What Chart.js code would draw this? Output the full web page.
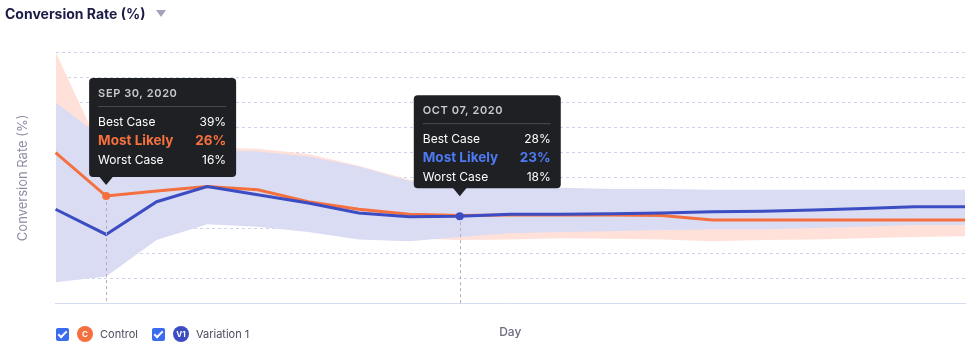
<!DOCTYPE html>
<html>
<head>
<meta charset="utf-8">
<script src="https://cdn.jsdelivr.net/npm/chart.js@4.4.1/dist/chart.umd.min.js"></script>
<style>
    html, body { margin: 0; padding: 0; background: #fff; }
    body { width: 971px; height: 346px; position: relative; overflow: hidden; font-family: Inter, "Noto Sans", sans-serif; }
    #chartWrap { position: absolute; left: 0; top: 0; width: 971px; height: 346px; }
    .header { position: absolute; left: 5px; top: 5px; font-size: 14px; font-weight: 700; color: #1c1b47; }
    .header .caret { display: inline-block; margin-left: 10px; width: 0; height: 0; border-left: 5px solid transparent; border-right: 5px solid transparent; border-top: 7px solid #a79fbc; vertical-align: 2px; }
    .legend { position: absolute; left: 56px; top: 326px; display: flex; align-items: center; font-size: 11px; color: #4b4b5c; }
    .legend .item { display: flex; align-items: center; margin-right: 14px; }
    .legend .box { width: 13px; height: 13px; border-radius: 2px; background: #3b6cf0; position: relative; margin-right: 8px; }
    .legend .box::after { content: ''; position: absolute; left: 4px; top: 1px; width: 3px; height: 7px; border: solid #fff; border-width: 0 2px 2px 0; transform: rotate(45deg); }
    .legend .badge { width: 16px; height: 16px; border-radius: 50%; color: #fff; font-size: 8px; font-weight: 700; display: flex; align-items: center; justify-content: center; margin-right: 7px; }
</style>
</head>
<body>
<div id="chartWrap"><canvas id="lineChart" width="971" height="346"></canvas></div>
<div class="header">Conversion Rate (%)<span class="caret"></span></div>
<div class="legend">
    <div class="item"><span class="box"></span><span class="badge" style="background:#f4703f">C</span>Control</div>
    <div class="item"><span class="box"></span><span class="badge" style="background:#3c4cc2">V1</span>Variation 1</div>
</div>
<script>
// 日期
const days = ['Sep 29', 'Sep 30', 'Oct 01', 'Oct 02', 'Oct 03', 'Oct 04', 'Oct 05', 'Oct 06', 'Oct 07', 'Oct 08',
    'Oct 09', 'Oct 10', 'Oct 11', 'Oct 12', 'Oct 13', 'Oct 14', 'Oct 15', 'Oct 16', 'Oct 17'];

// Control
const controlLikely = [33.0, 26.1, 26.9, 27.6, 27.1, 25.2, 24.0, 23.2, 23.0, 23.1, 23.1, 23.1, 23.0, 22.3, 22.3, 22.3, 22.3, 22.3, 22.3];
const controlBest = [49.0, 31.7, 33.6, 33.8, 33.6, 32.8, 30.9, 28.7, 27.7, 26.9, 26.9, 26.9, 26.9, 26.9, 26.9, 26.9, 26.9, 26.9, 26.9];
const controlWorst = [15.7, 16.0, 20.5, 22.1, 21.8, 20.8, 19.7, 19.4, 19.1, 19.2, 19.4, 19.3, 19.2, 18.9, 19.1, 19.2, 19.4, 19.6, 19.7];

// Variation 1
const variationLikely = [24.0, 20.0, 25.2, 27.6, 26.3, 25.0, 23.4, 22.8, 22.9, 23.2, 23.2, 23.3, 23.4, 23.6, 23.7, 23.9, 24.1, 24.4, 24.4];
const variationBest = [41.0, 34.9, 33.8, 33.5, 33.2, 32.4, 30.8, 28.5, 27.6, 27.4, 27.4, 27.2, 27.2, 27.1, 27.1, 27.1, 27.1, 27.1, 27.1];
const variationWorst = [12.4, 13.3, 19.1, 21.6, 21.2, 20.4, 19.2, 18.9, 19.6, 20.2, 20.4, 20.5, 20.7, 20.8, 20.8, 21.0, 21.2, 21.5, 21.5];

// y轴范围
const yMin = 9;
const yMax = 49;
const yStep = 4;

// 提示框
const calloutDates = ['SEP 30, 2020', 'OCT 07, 2020'];
const calloutIndex = [1, 8];
const calloutSeries = ['control', 'variation'];
const calloutBest = [39, 28];
const calloutLikely = [26, 23];
const calloutWorst = [16, 18];

const ORANGE = '#f4703f';
const BLUE = '#3c4cc2';
const BLUE_TEXT = '#4d7af2';

function roundRect(ctx, x, y, w, h, r) {
    ctx.beginPath();
    ctx.moveTo(x + r, y);
    ctx.lineTo(x + w - r, y);
    ctx.quadraticCurveTo(x + w, y, x + w, y + r);
    ctx.lineTo(x + w, y + h - r);
    ctx.quadraticCurveTo(x + w, y + h, x + w - r, y + h);
    ctx.lineTo(x + r, y + h);
    ctx.quadraticCurveTo(x, y + h, x, y + h - r);
    ctx.lineTo(x, y + r);
    ctx.quadraticCurveTo(x, y, x + r, y);
    ctx.closePath();
}

// 固定提示框
const calloutPlugin = {
    id: 'callouts',
    afterDatasetsDraw(chart) {
        const ctx = chart.ctx;
        const bottom = chart.chartArea.bottom;
        // 布局: 每个提示框的水平偏移, 高度, 与点的距离
        const boxLayout = [{ dx: -17, h: 99, gap: 19 }, { dx: -46, h: 93, gap: 28 }];
        calloutIndex.forEach((idx, k) => {
            const isControl = calloutSeries[k] === 'control';
            const dsIndex = isControl ? 1 : 0;
            const color = isControl ? ORANGE : BLUE;
            const textColor = isControl ? ORANGE : BLUE_TEXT;
            const pt = chart.getDatasetMeta(dsIndex).data[idx];
            const px = pt.x, py = pt.y;

            ctx.save();
            // 虚线
            ctx.strokeStyle = '#b9a9bd';
            ctx.lineWidth = 1;
            ctx.setLineDash([3, 3]);
            ctx.beginPath();
            ctx.moveTo(Math.round(px) + 0.5, py);
            ctx.lineTo(Math.round(px) + 0.5, bottom);
            ctx.stroke();
            ctx.setLineDash([]);

            // 点
            ctx.fillStyle = color;
            ctx.beginPath();
            ctx.arc(px, py, 4, 0, Math.PI * 2);
            ctx.fill();

            // 框
            const w = 147;
            const h = boxLayout[k].h;
            const bx = px + boxLayout[k].dx;
            const by = py - boxLayout[k].gap - h;
            ctx.fillStyle = '#1f2024';
            roundRect(ctx, bx, by, w, h, 4);
            ctx.fill();
            ctx.beginPath();
            ctx.moveTo(px - 7, by + h - 0.5);
            ctx.lineTo(px + 7, by + h - 0.5);
            ctx.lineTo(px, by + h + 8);
            ctx.closePath();
            ctx.fill();

            const left = bx + 9;
            const right = bx + w - 10;
            ctx.textBaseline = 'middle';
            ctx.textAlign = 'left';
            ctx.fillStyle = '#c9c9ce';
            ctx.font = '600 11px Inter';
            ctx.letterSpacing = '0.6px';
            ctx.fillText(calloutDates[k], left, by + 16);
            ctx.letterSpacing = '0px';

            ctx.strokeStyle = '#4a4b52';
            ctx.beginPath();
            ctx.moveTo(left, by + 28.5);
            ctx.lineTo(right, by + 28.5);
            ctx.stroke();

            ctx.font = '400 12px Inter';
            ctx.fillStyle = '#ffffff';
            ctx.fillText('Best Case', left, by + 44);
            ctx.fillText('Worst Case', left, by + 82);
            ctx.textAlign = 'right';
            ctx.fillText(calloutBest[k] + '%', right, by + 44);
            ctx.fillText(calloutWorst[k] + '%', right, by + 82);

            ctx.font = '700 13.5px Inter';
            ctx.fillStyle = textColor;
            ctx.fillText(calloutLikely[k] + '%', right, by + 63);
            ctx.textAlign = 'left';
            ctx.fillText('Most Likely', left, by + 63);
            ctx.restore();
        });
    }
};

document.addEventListener('DOMContentLoaded', function() {
    const lineData = {
        labels: days,
        datasets: [
            { label: 'Variation 1', data: variationLikely, borderColor: BLUE, borderWidth: 3, pointRadius: 0, fill: false, tension: 0 },
            { label: 'Control', data: controlLikely, borderColor: ORANGE, borderWidth: 3, pointRadius: 0, fill: false, tension: 0 },
            { label: 'V1 best', data: variationBest, borderWidth: 0, pointRadius: 0, backgroundColor: '#dadcf3', fill: '+1', tension: 0 },
            { label: 'V1 worst', data: variationWorst, borderWidth: 0, pointRadius: 0, fill: false, tension: 0 },
            { label: 'C best', data: controlBest, borderWidth: 0, pointRadius: 0, backgroundColor: '#ffe1da', fill: '+1', tension: 0 },
            { label: 'C worst', data: controlWorst, borderWidth: 0, pointRadius: 0, fill: false, tension: 0 }
        ]
    };

    new Chart(document.getElementById('lineChart'), {
        type: 'line',
        data: lineData,
        plugins: [calloutPlugin],
        options: {
            responsive: false,
            animation: false,
            layout: { padding: { left: 14, right: 6, top: 52, bottom: 6 } },
            plugins: {
                legend: { display: false },
                tooltip: { enabled: false }
            },
            scales: {
                x: {
                    offset: false,
                    ticks: { display: false },
                    grid: { display: false, drawTicks: false },
                    border: { display: true, color: '#d6dcef', width: 1 },
                    title: { display: true, text: 'Day', color: '#6c6b80', font: { family: 'Inter', size: 12, weight: '500' }, padding: { top: 22, bottom: 0 } }
                },
                y: {
                    min: yMin,
                    max: yMax,
                    ticks: { display: false, stepSize: yStep },
                    grid: { color: '#ccd3ee', drawTicks: false, lineWidth: 1 },
                    border: { display: false, dash: [3, 3] },
                    title: { display: true, text: 'Conversion Rate (%)', color: '#8e8ca3', font: { family: 'Inter', size: 13, weight: '400' }, padding: { top: 1, bottom: 25 } }
                }
            }
        }
    });
});
</script>
</body>
</html>
